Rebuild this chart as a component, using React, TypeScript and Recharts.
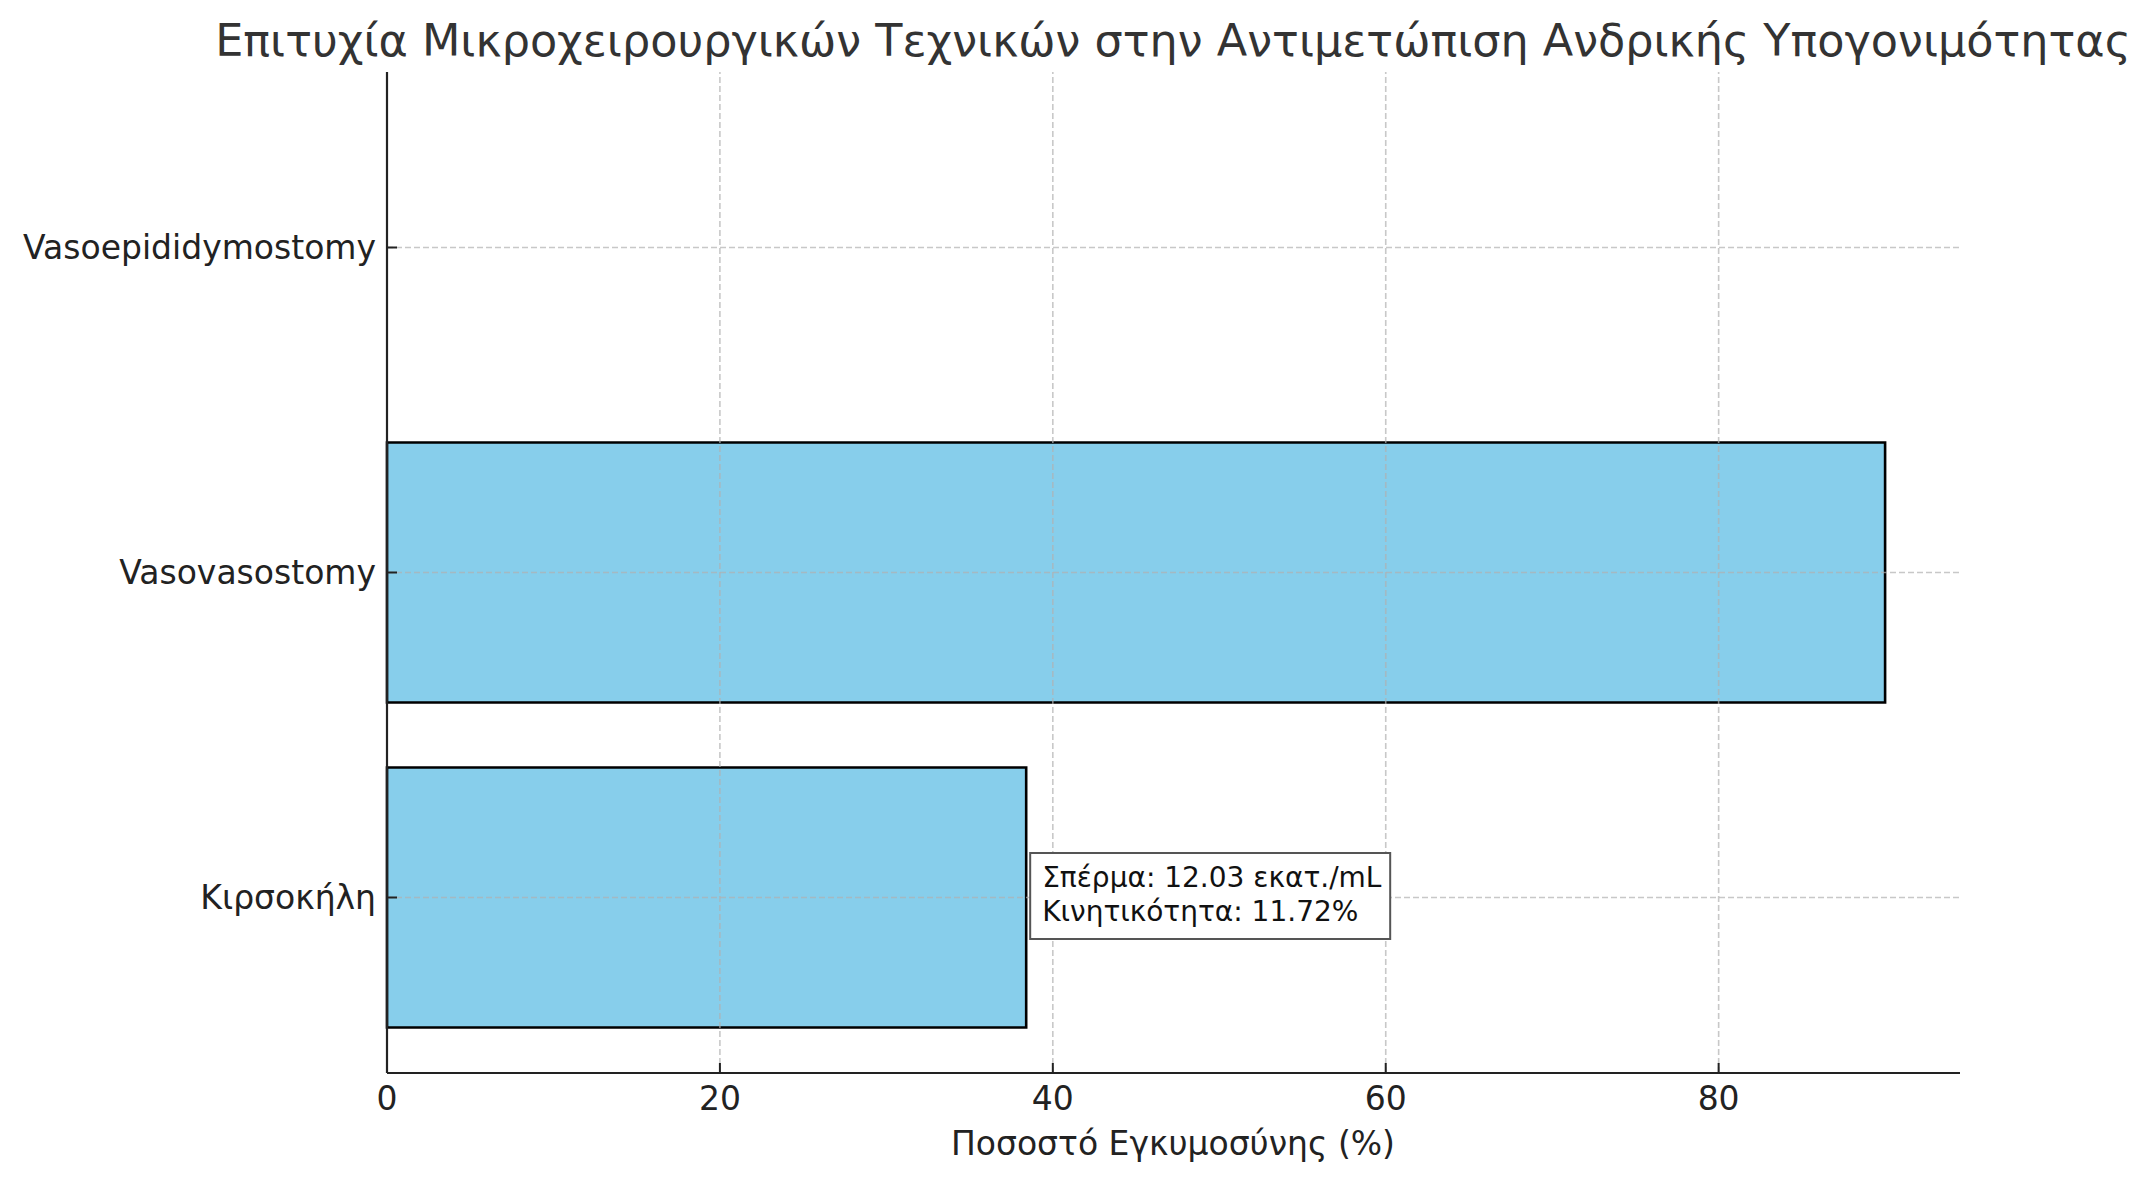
import React from 'react';
import { BarChart, Bar, XAxis, YAxis, ReferenceLine, LabelList } from 'recharts';

// matplotlib barh order: first item is drawn at the bottom
const techniques = ['Κιρσοκήλη', 'Vasovasostomy', 'Vasoepididymostomy'];
const pregnancyRate = [38.4, 90, 0];
const spermCount: (number | null)[] = [12.03, null, null];
const motility: (number | null)[] = [11.72, null, null];
const xTicks = [0, 20, 40, 60, 80];

const data = techniques.map((name, i) => ({
  name,
  rate: pregnancyRate[i],
  sperm: spermCount[i],
  motility: motility[i],
}));

const FONT = '"DejaVu Sans", sans-serif';
const W = 2151;
const H = 1180;
const gridProps = { stroke: '#b0b0b0', strokeOpacity: 0.7, strokeWidth: 1.6, strokeDasharray: '6 3' };

function Annotation(props: any) {
  const { x, y, width, height, index } = props;
  const s = data[index]?.sperm;
  const m = data[index]?.motility;
  if (s == null || m == null) return null;
  const end = Number(x) + Number(width);
  const cy = Number(y) + Number(height) / 2;
  return (
    <g fontFamily={FONT} fontSize={28} fill="#111">
      <rect x={end + 4} y={cy - 44.5} width={360} height={86} fill="#fff" stroke="#555" strokeWidth={2} />
      <text x={end + 16} y={cy - 10.5}>{`Σπέρμα: ${s.toFixed(2)} εκατ./mL`}</text>
      <text x={end + 16} y={cy + 23.5}>{`Κινητικότητα: ${m.toFixed(2)}%`}</text>
    </g>
  );
}

export default function App() {
  return (
    <div style={{ position: 'absolute', left: 0, top: 0, width: W, height: H, background: '#fff', fontFamily: FONT }}>
      <BarChart
        width={W}
        height={H}
        data={data}
        layout="vertical"
        margin={{ top: 72, right: 191, left: 0, bottom: 0 }}
        barCategoryGap="10%"
      >
        <XAxis
          type="number"
          dataKey="rate"
          domain={[0, 94.5]}
          ticks={xTicks}
          height={107}
          tickSize={-10}
          tickMargin={24}
          axisLine={{ stroke: '#222', strokeWidth: 2.2 }}
          tickLine={{ stroke: '#222', strokeWidth: 2 }}
          tick={{ fontSize: 33, fill: '#222', fontFamily: FONT }}
        />
        <YAxis
          type="category"
          dataKey="name"
          reversed
          width={387}
          padding={{ top: 13, bottom: 13 }}
          tickSize={-10}
          tickMargin={21}
          axisLine={{ stroke: '#222', strokeWidth: 2.2 }}
          tickLine={{ stroke: '#222', strokeWidth: 2 }}
          tick={{ fontSize: 33, fill: '#222', fontFamily: FONT }}
          interval={0}
        />
        <Bar dataKey="rate" fill="#87CEEB" stroke="#000" strokeWidth={2.6} isAnimationActive={false}>
          <LabelList dataKey="sperm" content={Annotation} />
        </Bar>
        {xTicks.map((t) => (
          <ReferenceLine key={`gx${t}`} x={t} {...gridProps} />
        ))}
        {techniques.map((c) => (
          <ReferenceLine key={`gy${c}`} y={c} {...gridProps} />
        ))}
      </BarChart>
      <svg
        width={W}
        height={H}
        style={{ position: 'absolute', left: 0, top: 0, pointerEvents: 'none' }}
        fontFamily={FONT}
      >
        <text x={1173} y={56} textAnchor="middle" fontSize={44.5} fill="#333">
          Επιτυχία Μικροχειρουργικών Τεχνικών στην Αντιμετώπιση Ανδρικής Υπογονιμότητας
        </text>
        <text x={1173} y={1155} textAnchor="middle" fontSize={33} fill="#222">
          Ποσοστό Εγκυμοσύνης (%)
        </text>
      </svg>
    </div>
  );
}
